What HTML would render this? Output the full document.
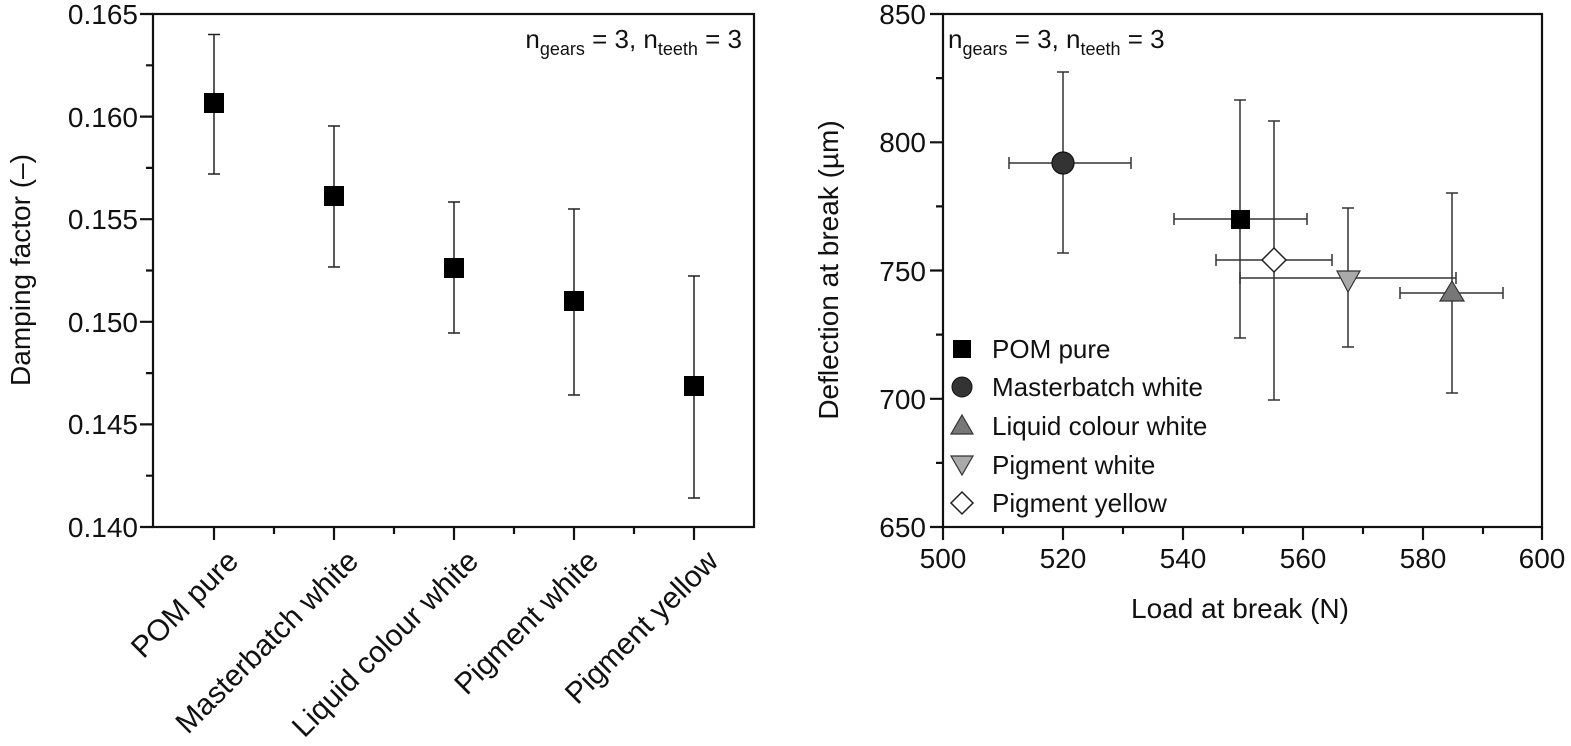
<!DOCTYPE html>
<html><head><meta charset="utf-8"><style>body{margin:0;background:#fff}svg{display:block}text{font-family:"Liberation Sans",Arial,sans-serif;fill:#111}</style></head><body>
<svg width="1571" height="746" viewBox="0 0 1571 746" xmlns="http://www.w3.org/2000/svg">
<g stroke="#111" stroke-width="2.2" fill="none">
<rect x="153" y="14" width="601" height="513"/>
<rect x="943" y="14" width="599" height="513"/>
<path d="M153 14h-13M153 116.6h-13M153 219.2h-13M153 321.8h-13M153 424.4h-13M153 527h-13M153 65.3h-7M153 167.9h-7M153 270.5h-7M153 373.1h-7M153 475.7h-7"/>
<path d="M214 527v13M334 527v13M454 527v13M574 527v13M694 527v13M274 527v7M394 527v7M514 527v7M634 527v7"/>
<path d="M943 14h-13M943 142.3h-13M943 270.5h-13M943 398.8h-13M943 527h-13M943 78.1h-7M943 206.4h-7M943 334.6h-7M943 462.9h-7"/>
<path d="M943 527v13M1063 527v13M1183 527v13M1303 527v13M1423 527v13M1542 527v13M1003 527v7M1123 527v7M1243 527v7M1363 527v7M1483 527v7"/>
</g>
<g font-size="28" text-anchor="end">
<text x="138" y="24">0.165</text><text x="138" y="127">0.160</text><text x="138" y="229">0.155</text><text x="138" y="332">0.150</text><text x="138" y="434">0.145</text><text x="138" y="537">0.140</text>
<text x="926" y="24">850</text><text x="926" y="152">800</text><text x="926" y="281">750</text><text x="926" y="409">700</text><text x="926" y="537">650</text>
</g>
<g font-size="28" text-anchor="middle">
<text x="943" y="568">500</text><text x="1063" y="568">520</text><text x="1183" y="568">540</text><text x="1303" y="568">560</text><text x="1423" y="568">580</text><text x="1542" y="568">600</text>
<text x="1240" y="618">Load at break (N)</text>
</g>
<text font-size="28" text-anchor="middle" transform="translate(30 270) rotate(-90)">Damping factor (–)</text>
<text font-size="28" text-anchor="middle" transform="translate(838 270) rotate(-90)">Deflection at break (µm)</text>
<g font-size="30" text-anchor="end">
<text transform="translate(240 563) rotate(-45)">POM pure</text>
<text transform="translate(360 563) rotate(-45)">Masterbatch white</text>
<text transform="translate(480 563) rotate(-45)">Liquid colour white</text>
<text transform="translate(600 563) rotate(-45)">Pigment white</text>
<text transform="translate(720 563) rotate(-45)">Pigment yellow</text>
</g>
<text font-size="26" x="742" y="48" text-anchor="end">n<tspan font-size="18" dy="7">gears</tspan><tspan dy="-7"> = 3, n</tspan><tspan font-size="18" dy="7">teeth</tspan><tspan dy="-7"> = 3</tspan></text>
<text font-size="26" x="948" y="48">n<tspan font-size="18" dy="7">gears</tspan><tspan dy="-7"> = 3, n</tspan><tspan font-size="18" dy="7">teeth</tspan><tspan dy="-7"> = 3</tspan></text>
<g stroke="#222" stroke-width="1.5">
<path d="M214 34.5V174M208 34.5h12M208 174h12"/>
<path d="M334 126V267M328 126h12M328 267h12"/>
<path d="M454 202V333M448 202h12M448 333h12"/>
<path d="M574 209V395M568 209h12M568 395h12"/>
<path d="M694 276V498M688 276h12M688 498h12"/>
</g>
<g fill="#000">
<rect x="204" y="93" width="20" height="20"/><rect x="324" y="186" width="20" height="20"/><rect x="444" y="258" width="20" height="20"/><rect x="564" y="291" width="20" height="20"/><rect x="684" y="376" width="20" height="20"/>
</g>
<g stroke="#333" stroke-width="1.5">
<path d="M1063 72V253M1057 72h12M1057 253h12M1009 163H1131M1009 157v12M1131 157v12"/>
<path d="M1240 100V338M1234 100h12M1234 338h12M1174 219H1307M1174 213v12M1307 213v12"/>
<path d="M1274 121V400M1268 121h12M1268 400h12M1216 260H1332M1216 254v12M1332 254v12"/>
<path d="M1348 208V347M1342 208h12M1342 347h12M1240 278H1456M1240 272v12M1456 272v12"/>
<path d="M1452 193V393M1446 193h12M1446 393h12M1400 293H1503M1400 287v12M1503 287v12"/>
</g>
<rect x="1231" y="210" width="19" height="19" fill="#000"/>
<circle cx="1063" cy="163" r="11" fill="#333" stroke="#111" stroke-width="1.2"/>
<path d="M1274 248l12 12-12 12-12-12z" fill="#fff" stroke="#222" stroke-width="1.5"/>
<path d="M1337 271h23l-12 21z" fill="#aaa" stroke="#333" stroke-width="1.2"/>
<path d="M1452 281l12 20h-24z" fill="#777" stroke="#333" stroke-width="1.2"/>
<rect x="953" y="340" width="18" height="18" fill="#000"/>
<circle cx="962" cy="387" r="10" fill="#333" stroke="#111"/>
<path d="M962 415l11 19h-22z" fill="#777" stroke="#333" stroke-width="1.2"/>
<path d="M951 456h22l-11 19z" fill="#aaa" stroke="#333" stroke-width="1.2"/>
<path d="M962 492l11 11-11 11-11-11z" fill="#fff" stroke="#222" stroke-width="1.5"/>
<g font-size="26">
<text x="992" y="358">POM pure</text><text x="992" y="396">Masterbatch white</text><text x="992" y="435">Liquid colour white</text><text x="992" y="474">Pigment white</text><text x="992" y="512">Pigment yellow</text>
</g>
</svg>
</body></html>
